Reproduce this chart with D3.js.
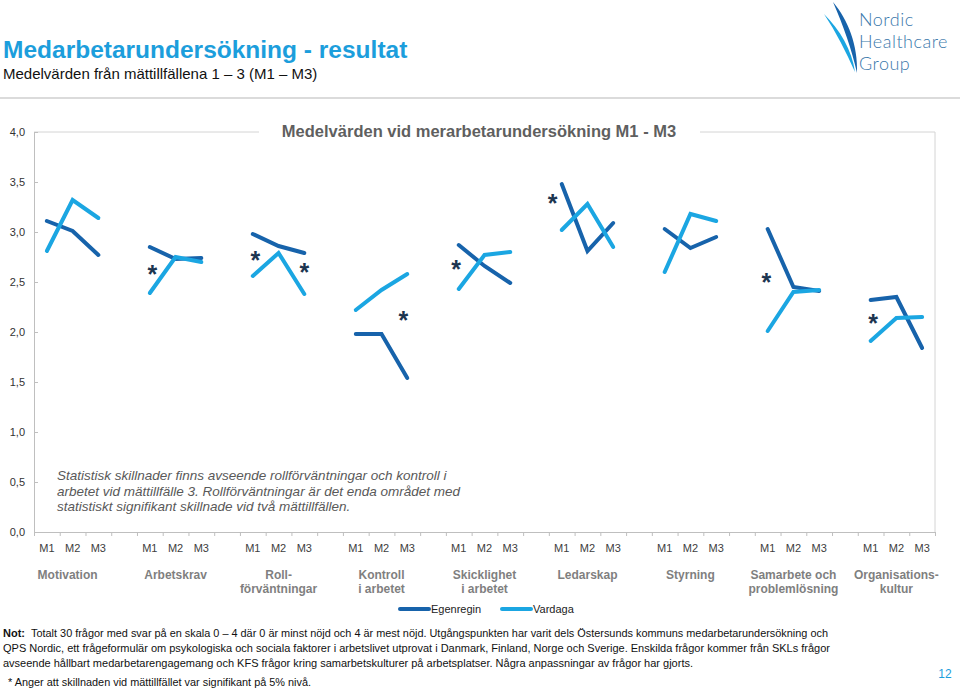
<!DOCTYPE html>
<html>
<head>
<meta charset="utf-8">
<script src="https://cdn.jsdelivr.net/npm/d3@7"></script>
<style>
body { margin: 0; background: #fff; }
svg text { font-family: "Liberation Sans", Arial, sans-serif; }
.axis path, .axis line { stroke: #bfbfbf; }
.axis text { fill: #333; font-size: 11px; }
</style>
</head>
<body>
<svg id="chart" width="960" height="690"></svg>
<script>
// categories (multi-line labels) and the three measurements
var categories = [
  ["Motivation"],
  ["Arbetskrav"],
  ["Roll-", "förväntningar"],
  ["Kontroll", "i arbetet"],
  ["Skicklighet", "i arbetet"],
  ["Ledarskap"],
  ["Styrning"],
  ["Samarbete och", "problemlösning"],
  ["Organisations-", "kultur"]
];
var periods = ["M1", "M2", "M3"];

// mean values per category, M1..M3
var egenregin = [
  [3.11, 3.01, 2.77],
  [2.85, 2.73, 2.74],
  [2.98, 2.86, 2.79],
  [1.98, 1.98, 1.54],
  [2.87, 2.66, 2.49],
  [3.48, 2.81, 3.09],
  [3.03, 2.84, 2.95],
  [3.03, 2.45, 2.41],
  [2.32, 2.35, 1.84]
];
var vardaga = [
  [2.81, 3.32, 3.14],
  [2.39, 2.75, 2.70],
  [2.56, 2.79, 2.38],
  [2.22, 2.42, 2.58],
  [2.43, 2.77, 2.80],
  [3.02, 3.28, 2.85],
  [2.60, 3.18, 3.11],
  [2.01, 2.40, 2.42],
  [1.91, 2.14, 2.15]
];
var seriesNames = ["Egenregin", "Vardaga"];
var yTicks = [0, 0.5, 1, 1.5, 2, 2.5, 3, 3.5, 4];

// significance markers: category, position in M-slots, level
var starCat = [1, 2, 2, 3, 4, 5, 7, 8];
var starSlot = [0.1, 0.1, 2, 1.85, -0.1, -0.35, -0.05, 0.1];
var starValue = [2.62, 2.76, 2.64, 2.16, 2.67, 3.33, 2.54, 2.13];

var noteLines = [
  "Statistisk skillnader finns avseende rollförväntningar och kontroll i",
  "arbetet vid mättillfälle 3. Rollförväntningar är det enda området med",
  "statistiskt signifikant skillnade vid två mättillfällen."
];
var footLines = [
  "Totalt 30 frågor med svar på en skala 0 – 4 där 0 är minst nöjd och 4 är mest nöjd.  Utgångspunkten har varit dels Östersunds kommuns medarbetarundersökning och",
  "QPS Nordic, ett  frågeformulär om psykologiska och sociala faktorer i arbetslivet utprovat i Danmark, Finland, Norge och Sverige. Enskilda frågor kommer från SKLs frågor",
  "avseende hållbart medarbetarengagemang och KFS frågor kring samarbetskulturer på arbetsplatser. Några anpassningar av frågor har gjorts.",
  "* Anger att skillnaden vid mättillfället var signifikant på 5% nivå."
];

var colors = {Egenregin: "#1763ab", Vardaga: "#1ba6e2"};

var svg = d3.select("#chart");

/* header */
svg.append("text")
  .attr("x", 3).attr("y", 58)
  .style("font-size", "24.5px").style("font-weight", "bold")
  .style("fill", "#1c9edc")
  .text("Medarbetarundersökning - resultat");
svg.append("text")
  .attr("x", 3).attr("y", 79)
  .style("font-size", "15px").style("fill", "#111")
  .text("Medelvärden från mättillfällena 1 – 3 (M1 – M3)");
svg.append("line")
  .attr("x1", 0).attr("x2", 960).attr("y1", 98).attr("y2", 98)
  .style("stroke", "#cfcfcf").style("stroke-width", 1.5);

// logo
var logo = svg.append("g");
logo.append("path")
  .attr("d", "M833,2 C848,20 858,45 857,73 C852,50 843,25 833,2 Z")
  .style("fill", "#1763ab");
logo.append("path")
  .attr("d", "M824,14 C840,30 852,50 855,72 C846,52 836,32 824,14 Z")
  .style("fill", "#1ba6e2");
logo.selectAll("text.logo")
  .data(["Nordic", "Healthcare", "Group"])
  .enter().append("text")
  .attr("class", "logo")
  .attr("x", 859)
  .attr("y", function(d, i) { return 26 + i * 22; })
  .style("font-family", "Lato, 'Open Sans', sans-serif")
  .style("font-weight", 300)
  .style("font-size", "18px")
  .style("letter-spacing", "0.5px")
  .style("fill", "#3a78ab")
  .text(function(d) { return d; });

/* chart */
var margin = {top: 132, right: 25, bottom: 158, left: 34},
  width = 960 - margin.left - margin.right,
  height = 690 - margin.top - margin.bottom;

var nSlots = categories.length * 4 - 1;
var xEdge = d3.scaleLinear().domain([0, nSlots]).range([0, width]);
var y = d3.scaleLinear().domain([0, 4]).range([height, 0]);

function xPos(c, s) { return xEdge(c * 4 + s + 0.5); }

var g = svg.append("g")
  .attr("transform", "translate(" + margin.left + "," + margin.top + ")");

// frame (top line broken by the title, right side)
g.append("line").attr("x1", 0).attr("x2", 225).attr("y1", 0).attr("y2", 0)
  .style("stroke", "#d4d4d4");
g.append("line").attr("x1", 666).attr("x2", width).attr("y1", 0).attr("y2", 0)
  .style("stroke", "#d4d4d4");
g.append("line").attr("x1", width).attr("x2", width).attr("y1", 0).attr("y2", height)
  .style("stroke", "#d4d4d4");

g.append("text")
  .attr("x", 445).attr("y", 5)
  .attr("text-anchor", "middle")
  .style("font-size", "16.5px").style("font-weight", "bold")
  .style("fill", "#5f5f5f")
  .text("Medelvärden vid merarbetarundersökning M1 - M3");

var sv = d3.formatLocale({decimal: ",", thousands: " ", grouping: [3], currency: ["", " kr"]});
var yAxis = d3.axisLeft(y).tickValues(yTicks).tickFormat(sv.format(".1f"))
  .tickSizeInner(-4).tickSizeOuter(0).tickPadding(9);
g.append("g").attr("class", "axis y").call(yAxis);

var xAxis = d3.axisBottom(xEdge).tickValues(d3.range(nSlots + 1))
  .tickFormat("").tickSizeInner(4).tickSizeOuter(0);
g.append("g").attr("class", "axis x")
  .attr("transform", "translate(0," + height + ")")
  .call(xAxis);

// M1..M3 labels
categories.forEach(function(cat, c) {
  g.selectAll("text.per" + c)
    .data(periods)
    .enter().append("text")
    .attr("x", function(d, s) { return xPos(c, s); })
    .attr("y", height + 20)
    .attr("text-anchor", "middle")
    .style("font-size", "11px").style("fill", "#404040")
    .text(function(d) { return d; });

  var lab = g.append("text")
    .attr("text-anchor", "middle")
    .style("font-size", "12px").style("font-weight", "bold")
    .style("fill", "#7f7f7f");
  cat.forEach(function(line, k) {
    lab.append("tspan")
      .attr("x", xPos(c, 1) - (c === 0 ? 5 : 0))
      .attr("y", height + 47 + k * 14)
      .text(line);
  });
});

// lines
var line = d3.line()
  .x(function(d) { return d.x; })
  .y(function(d) { return y(d.v); });

[egenregin, vardaga].forEach(function(series, si) {
  series.forEach(function(vals, c) {
    g.append("path")
      .datum(vals.map(function(v, s) { return {x: xPos(c, s), v: v}; }))
      .attr("d", line)
      .style("fill", "none")
      .style("stroke", colors[seriesNames[si]])
      .style("stroke-width", 4)
      .style("stroke-linecap", "round")
      .style("stroke-linejoin", "miter");
  });
});

// significance asterisks
g.selectAll("text.star")
  .data(starCat)
  .enter().append("text")
  .attr("class", "star")
  .attr("x", function(d, i) { return xPos(d, starSlot[i]); })
  .attr("y", function(d, i) { return y(starValue[i]) + 13; })
  .attr("text-anchor", "middle")
  .style("font-size", "25px").style("font-weight", "bold")
  .style("fill", "#1c3550")
  .text("*");

// annotation
var note = g.append("text")
  .style("font-size", "13.5px").style("font-style", "italic")
  .style("fill", "#595959");
noteLines.forEach(function(t, i) {
  note.append("tspan").attr("x", 23).attr("y", 348 + i * 15.5).text(t);
});

// legend
var legend = svg.append("g");
var legX = [400, 502];
seriesNames.forEach(function(name, i) {
  legend.append("line")
    .attr("x1", legX[i]).attr("x2", legX[i] + 29)
    .attr("y1", 609).attr("y2", 609)
    .style("stroke", colors[name]).style("stroke-width", 4)
    .style("stroke-linecap", "round");
  legend.append("text")
    .attr("x", legX[i] + 31).attr("y", 613)
    .style("font-size", "11px").style("fill", "#222")
    .text(name);
});

/* footer */
svg.append("text")
  .attr("x", 3).attr("y", 637)
  .style("font-size", "11px").style("font-weight", "bold").style("fill", "#111")
  .text("Not:");
var footX = [31, 3, 3, 8];
var footW = [797, 827, 690, 303];
footLines.forEach(function(t, i) {
  svg.append("text")
    .attr("x", footX[i])
    .attr("y", i < 3 ? 637 + i * 15 : 686)
    .attr("textLength", footW[i])
    .attr("lengthAdjust", "spacingAndGlyphs")
    .style("font-size", "11px").style("fill", "#111")
    .text(t);
});

svg.append("text")
  .attr("x", 945).attr("y", 678)
  .attr("text-anchor", "middle")
  .style("font-size", "12px").style("fill", "#1c9edc")
  .text("12");
</script>
</body>
</html>
